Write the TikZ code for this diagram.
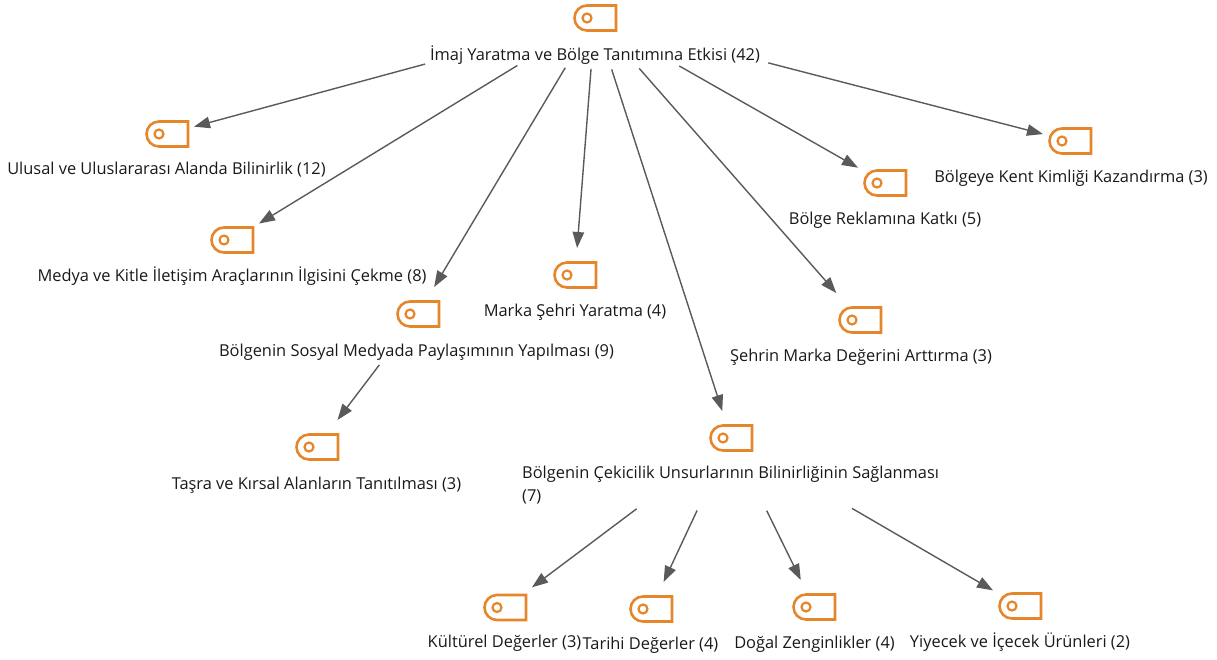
\documentclass[tikz,border=0pt]{standalone}
\usepackage{fontspec}
\setmainfont{Open Sans}
\usetikzlibrary{arrows.meta}

\definecolor{tagorange}{HTML}{E6862A}
\definecolor{edgegray}{HTML}{5A5A5A}

\tikzset{
    tagbox/.style={minimum size=54pt, inner sep=0pt, outer sep=0pt},
    tagline/.style={draw=tagorange, line width=2.6pt, line join=miter},
    code/.style={font=\fontsize{16.4}{23}\selectfont, text=black!90, inner sep=0pt},
    edge/.style={draw=edgegray, line width=1.4pt, -{Triangle[length=16pt, width=11.5pt]}}
}

% Tag icon with its (invisible) box, #1 name, #2 centre
\newcommand{\tagicon}[2]{
    \node[tagbox] (#1) at (#2) {};
    \begin{scope}[shift={(#2)}]
        \draw[tagline] (21,-12.5) -- (-8,-12.5) arc[start angle=90, end angle=270, radius=12.5pt] -- (21,12.5) -- cycle;
        \draw[tagline, line width=2.2pt] (-8,0) circle (4.5pt);
    \end{scope}
}

\begin{document}
\begin{tikzpicture}[x=1pt, y=-1pt]
    \useasboundingbox (0,0) rectangle (1217,659);

    % Tags
    \tagicon{tagRoot}{595,18}
    \tagicon{tagUlusal}{167,134}
    \tagicon{tagMedya}{232,240}
    \tagicon{tagSosyal}{418,314}
    \tagicon{tagMarka}{575,275}
    \tagicon{tagCekici}{731,438}
    \tagicon{tagSehir}{860,320}
    \tagicon{tagReklam}{885,183}
    \tagicon{tagKent}{1070,141}
    \tagicon{tagTasra}{317,447}
    \tagicon{tagKultur}{505,607.5}
    \tagicon{tagTarih}{651,609}
    \tagicon{tagDoga}{814,607}
    \tagicon{tagYiyecek}{1020,606}

    % Labels
    \node[code] (labRoot) at (595,55.5) {İmaj Yaratma ve Bölge Tanıtımına Etkisi (42)};
    \node[code] (labUlusal) at (166.5,170) {Ulusal ve Uluslararası Alanda Bilinirlik (12)};
    \node[code] (labMedya) at (232,276.5) {Medya ve Kitle İletişim Araçlarının İlgisini Çekme (8)};
    \node[code] (labSosyal) at (416.5,352) {Bölgenin Sosyal Medyada Paylaşımının Yapılması (9)};
    \node[code] (labMarka) at (575,312) {Marka Şehri Yaratma (4)};
    \node[code] (labSehir) at (861,357) {Şehrin Marka Değerini Arttırma (3)};
    \node[code] (labReklam) at (885,220) {Bölge Reklamına Katkı (5)};
    \node[code] (labKent) at (1071,178.5) {Bölgeye Kent Kimliği Kazandırma (3)};
    \node[code] (labTasra) at (316.5,485) {Taşra ve Kırsal Alanların Tanıtılması (3)};
    \node[code, align=left, anchor=north west] (labCekici) at (522,465.5) {Bölgenin Çekicilik Unsurlarının Bilinirliğinin Sağlanması\\(7)};
    \node[code] (labKultur) at (504.5,643) {Kültürel Değerler (3)};
    \node[code] (labTarih) at (650.5,645) {Tarihi Değerler (4)};
    \node[code] (labDoga) at (814.5,644) {Doğal Zenginlikler (4)};
    \node[code] (labYiyecek) at (1020,642) {Yiyecek ve İçecek Ürünleri (2)};

    % Edges from the root
    \draw[edge, shorten <=176pt] (tagRoot.center) -- (tagUlusal);
    \draw[edge, shorten <=91pt] (tagRoot.center) -- (tagMedya);
    \draw[edge, shorten <=58pt] (tagRoot.center) -- (tagSosyal);
    \draw[edge, shorten <=51pt] (tagRoot.center) -- (tagMarka);
    \draw[edge, shorten <=54pt] (tagRoot.center) -- (tagCekici);
    \draw[edge, shorten <=67pt] (tagRoot.center) -- (tagSehir);
    \draw[edge, shorten <=97pt] (tagRoot.center) -- (tagReklam);
    \draw[edge, shorten <=179pt] (tagRoot.center) -- (tagKent);

    % Edges below
    \draw[edge, shorten <=64pt] (tagSosyal.center) -- (tagTasra);
    \draw[edge, shorten <=118pt] (tagCekici.center) -- (tagKultur);
    \draw[edge, shorten <=80pt] (tagCekici.center) -- (tagTarih);
    \draw[edge, shorten <=81pt] (tagCekici.center) -- (tagDoga);
    \draw[edge, shorten <=140pt] (tagCekici.center) -- (tagYiyecek);
\end{tikzpicture}
\end{document}
